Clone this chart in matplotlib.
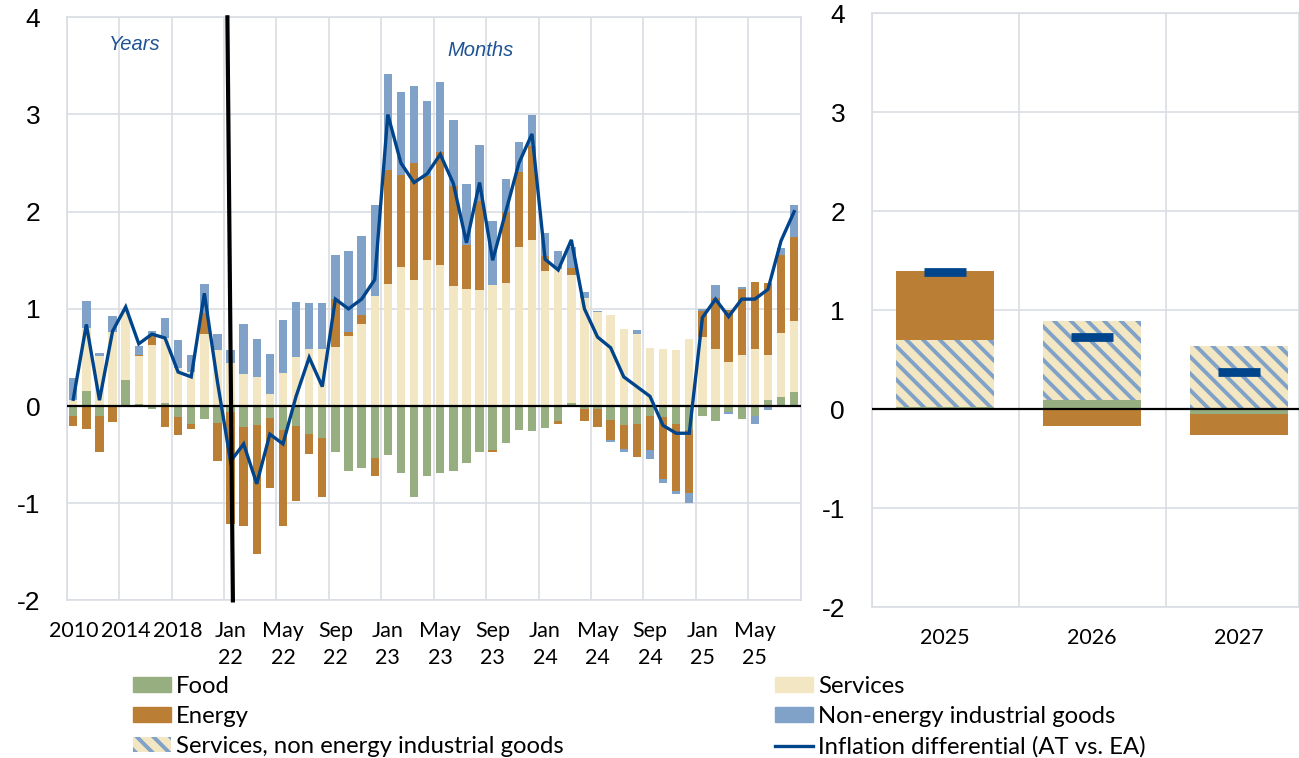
#!/usr/bin/env python3
"""
Austrian vs euro area inflation differential: contributions by component.
Left: annual 2010-2021 and monthly Jan 22 - Aug 25; right: forecast 2025-2027.
Writes out.png.
"""
import numpy as np
import matplotlib
matplotlib.use("Agg")
import matplotlib.pyplot as plt
from matplotlib.patches import Patch
from matplotlib.lines import Line2D

# --- data (percentage points) ---------------------------------------------
years = [str(y) for y in range(2010, 2022)]
months = [f"{m} {yy}" for yy in ["22", "23", "24"]
          for m in ["Jan", "Feb", "Mar", "Apr", "May", "Jun",
                    "Jul", "Aug", "Sep", "Oct", "Nov", "Dec"]]
months += [f"{m} 25" for m in ["Jan", "Feb", "Mar", "Apr", "May", "Jun", "Jul", "Aug"]]
categories = years + months

food = [-0.10, 0.15, -0.10, 0.00, 0.27, 0.02, -0.03, 0.03, -0.11, -0.18, -0.13, -0.17,
        -0.06, -0.22, -0.20, -0.12, -0.25, -0.21, -0.29, -0.33, -0.47, -0.67, -0.64, -0.53,
        -0.50, -0.69, -0.94, -0.72, -0.69, -0.67, -0.59, -0.47, -0.45, -0.38, -0.25, -0.26,
        -0.23, -0.15, 0.03, -0.03, -0.03, -0.14, -0.20, -0.19, -0.10, -0.11, -0.18, -0.25,
        -0.10, -0.15, -0.06, -0.13, -0.10, 0.06, 0.09, 0.14]
services = [0.06, 0.65, 0.51, 0.76, 0.73, 0.49, 0.63, 0.67, 0.39, 0.35, 0.74, 0.58,
            0.44, 0.33, 0.30, 0.12, 0.34, 0.50, 0.59, 0.59, 0.61, 0.72, 0.84, 1.13,
            1.26, 1.43, 1.30, 1.50, 1.45, 1.23, 1.20, 1.19, 1.25, 1.27, 1.64, 1.71,
            1.39, 1.41, 1.32, 1.11, 0.97, 0.94, 0.79, 0.74, 0.60, 0.59, 0.58, 0.69,
            0.71, 0.59, 0.45, 0.52, 0.59, 0.47, 0.66, 0.74]
energy = [-0.11, -0.24, -0.37, -0.16, 0.00, 0.02, 0.09, -0.22, -0.19, -0.06, 0.22, -0.40,
          -1.15, -1.01, -1.32, -0.72, -0.98, -0.77, -0.20, -0.61, 0.49, 0.04, 0.10, -0.19,
          1.17, 0.95, 1.20, 0.87, 1.16, 1.03, 0.46, 0.92, -0.02, 0.73, 0.77, 0.97,
          0.15, -0.03, 0.07, -0.12, -0.19, -0.21, -0.24, -0.33, -0.35, -0.64, -0.69, -0.64,
          0.27, 0.52, 0.54, 0.68, 0.69, 0.74, 0.80, 0.86]
neig = [0.23, 0.28, 0.04, 0.17, 0.00, 0.09, 0.05, 0.21, 0.29, 0.18, 0.30, 0.16,
        0.14, 0.51, 0.39, 0.42, 0.55, 0.57, 0.47, 0.47, 0.45, 0.84, 0.81, 0.94,
        0.99, 0.85, 0.79, 0.77, 0.72, 0.68, 0.62, 0.58, 0.65, 0.34, 0.31, 0.31,
        0.24, 0.19, 0.22, 0.06, 0.01, -0.02, -0.03, 0.04, -0.09, -0.04, -0.04, -0.11,
        0.02, 0.14, -0.02, 0.02, -0.09, -0.04, 0.08, 0.33]
differential = [0.07, 0.84, 0.06, 0.77, 1.02, 0.64, 0.74, 0.70, 0.35, 0.30, 1.16, 0.25,
                -0.57, -0.39, -0.80, -0.29, -0.39, 0.10, 0.50, 0.20, 1.10, 1.00, 1.10, 1.30,
                3.00, 2.50, 2.30, 2.39, 2.59, 2.29, 1.68, 2.30, 1.50, 2.00, 2.50, 2.80,
                1.51, 1.40, 1.71, 1.00, 0.71, 0.60, 0.30, 0.20, 0.10, -0.20, -0.28, -0.28,
                0.91, 1.10, 0.92, 1.10, 1.10, 1.20, 1.70, 2.00]

fc_years = ["2025", "2026", "2027"]
fc_food = [0.02, 0.09, -0.05]
fc_svc_neig = [0.68, 0.80, 0.64]
fc_energy = [0.70, -0.17, -0.21]
fc_differential = [1.39, 0.73, 0.38]

# --- style -------------------------------------------------------------------
C_FOOD = "#97ae80"
C_SERV = "#f3e6c2"
C_ENER = "#ba7f34"
C_NEIG = "#80a2c8"
C_LINE = "#00448b"
C_GRID = "#d9dee4"

plt.rcParams["hatch.linewidth"] = 2.8
TICK_FONT = ["Liberation Sans", "DejaVu Sans"]
LABEL_FONT = ["Lato", "DejaVu Sans"]


def stack(ax, x, series, colors, width, hatches=None):
    # positives stack upwards from 0, negatives downwards, in series order
    pos = np.zeros(len(x))
    neg = np.zeros(len(x))
    for i, (vals, col) in enumerate(zip(series, colors)):
        v = np.asarray(vals, dtype=float)
        bottom = np.where(v >= 0, pos, neg)
        hatch = hatches[i] if hatches else None
        if hatch:
            ax.bar(x, v, width, bottom=bottom, color=col, edgecolor=C_NEIG,
                   linewidth=0, hatch=hatch, zorder=2)
        else:
            ax.bar(x, v, width, bottom=bottom, color=col, linewidth=0, zorder=2)
        pos = pos + np.where(v >= 0, v, 0)
        neg = neg + np.where(v < 0, v, 0)


def style_axes(ax):
    ax.set_ylim(-2, 4)
    ax.set_yticks(range(-2, 5))
    ax.set_yticklabels([str(v) for v in range(-2, 5)], family=TICK_FONT, fontsize=19)
    ax.grid(True, axis="y", color=C_GRID, lw=1.2, zorder=0)
    ax.grid(True, axis="x", which="minor", color=C_GRID, lw=1.2, zorder=0)
    ax.tick_params(axis="both", which="both", length=0)
    ax.tick_params(axis="y", pad=19)
    for s in ax.spines.values():
        s.set_color(C_GRID)
        s.set_linewidth(1.2)
    ax.axhline(0, color="black", lw=1.6, zorder=4)


fig = plt.figure(figsize=(12.99, 7.58), dpi=100)
W, H = 1299, 758

# --- left panel --------------------------------------------------------------
ax = fig.add_axes([66.7 / W, 1 - 600.4 / H, (800.7 - 66.7) / W, (600.4 - 17.3) / H])
x = np.arange(len(categories))
stack(ax, x, [food, services, energy, neig], [C_FOOD, C_SERV, C_ENER, C_NEIG], 0.64)
ax.plot(x, differential, color=C_LINE, lw=2.4, zorder=5, solid_joinstyle="miter")
style_axes(ax)
ax.set_xlim(-0.5, len(categories) - 0.5)
ax.set_xticks(x[::4])
ax.set_xticklabels([c.replace(" ", "\n") for c in categories[::4]],
                   family=LABEL_FONT, fontsize=15.5, linespacing=1.45)
ax.set_xticks(np.arange(-0.5, len(categories), 4), minor=True)
ax.tick_params(axis="x", pad=15)
# slanted divider between annual and monthly data
ax.plot([11.76, 12.18], [4.0, -2.0], color="black", lw=3.0, zorder=6, clip_on=False)
ax.text(4.7, 3.72, "Years", color="#1f5394", style="italic", family=TICK_FONT,
        fontsize=14.5, ha="center", va="center")
ax.text(31.1, 3.66, "Months", color="#1f5394", style="italic", family=TICK_FONT,
        fontsize=14.5, ha="center", va="center")

# --- right panel -------------------------------------------------------------
ax2 = fig.add_axes([871.5 / W, 1 - 607.3 / H, (W - 871.5) / W, (607.3 - 13.3) / H])
xf = np.arange(len(fc_years))
stack(ax2, xf, [fc_food, fc_svc_neig, fc_energy], [C_FOOD, C_SERV, C_ENER], 0.667,
      hatches=[None, "\\\\", None])
ax2.plot(xf, fc_differential, ls="none", marker="_", ms=30, mew=6.3, color=C_LINE, zorder=5)
style_axes(ax2)
ax2.set_xlim(-0.5, 2.408)
ax2.set_xticks(xf)
ax2.set_xticklabels(fc_years, family=LABEL_FONT, fontsize=15.5)
ax2.set_xticks([-0.5, 0.5, 1.5], minor=True)
ax2.tick_params(axis="x", pad=15)

# --- legend ------------------------------------------------------------------
leg_kw = dict(frameon=False, prop={"family": LABEL_FONT, "size": 17.2},
              handlelength=1.6, handleheight=0.6, handletextpad=0.2,
              labelspacing=0.38, borderpad=0, borderaxespad=0)
h_left = [Patch(color=C_FOOD, label="Food"),
          Patch(color=C_ENER, label="Energy"),
          Patch(facecolor=C_SERV, edgecolor=C_NEIG, hatch="\\\\", lw=0,
                label="Services, non energy industrial goods")]
h_right = [Patch(color=C_SERV, label="Services"),
           Patch(color=C_NEIG, label="Non-energy industrial goods"),
           Line2D([], [], color=C_LINE, lw=2.4, label="Inflation differential (AT vs. EA)")]
fig.legend(handles=h_left, loc="upper left", bbox_to_anchor=(133 / W, 1 - 676 / H), **leg_kw)
fig.legend(handles=h_right, loc="upper left", bbox_to_anchor=(775 / W, 1 - 676 / H), **leg_kw)

fig.savefig("out.png", dpi=100)
